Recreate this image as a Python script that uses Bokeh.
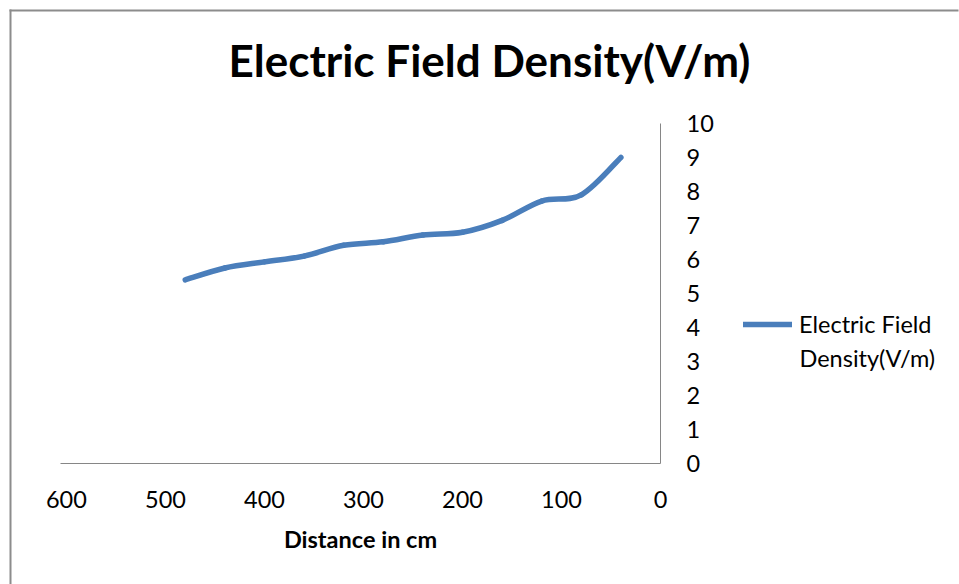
from bokeh.plotting import figure
from bokeh.models import (Range1d, FixedTicker, Label, Legend, LegendItem,
                          ColumnDataSource, BoxAnnotation)
from bokeh.embed import file_html
from bokeh.resources import INLINE

# ---- data ----
distance_cm = [480, 440, 400, 360, 320, 280, 240, 200, 160, 120, 80, 40]
field_density = [5.4, 5.75, 5.93, 6.1, 6.42, 6.52, 6.72, 6.8, 7.15, 7.72, 7.9, 9.0]
x_tick_values = [0, 100, 200, 300, 400, 500, 600]
y_tick_values = [0, 1, 2, 3, 4, 5, 6, 7, 8, 9, 10]
series_name_lines = ["Electric Field", "Density(V/m)"]
title_text = "Electric Field Density(V/m)"
x_axis_title = "Distance in cm"

FONT = "Lato"
FS = "23.5px"
LINE_COLOR = "#4a7ebb"
AXIS_COLOR = "#868686"
BORDER_COLOR = "#8c8c8c"

W, H = 959, 584
# plot-area edges in canvas pixels
PL, PR, PT, PB = 60, 660, 123, 463
X_MAX, Y_MAX = 606.0, 10.0

# the frame covers the whole canvas; the axes are pinned inside it
xpx = (PR - PL) / X_MAX
ypx = (PB - PT) / Y_MAX
x_range = Range1d(X_MAX + PL / xpx, -(W - PR) / xpx)
y_range = Range1d(-(H - PB) / ypx, Y_MAX + PT / ypx)

p = figure(width=W, height=H, output_backend="svg", toolbar_location=None,
           x_range=x_range, y_range=y_range, y_axis_location="right",
           min_border=0)
p.title.visible = False
p.outline_line_color = None
p.grid.visible = False
p.background_fill_color = "white"
p.border_fill_color = "white"

# axes
xa = p.xaxis[0]
xa.fixed_location = 0
xa.bounds = (0, X_MAX)
xa.ticker = FixedTicker(ticks=x_tick_values)
xa.axis_line_color = AXIS_COLOR
xa.major_tick_line_color = None
xa.minor_tick_line_color = None
xa.major_label_text_font = FONT
xa.major_label_text_font_size = FS
xa.major_label_text_color = "black"
xa.major_label_standoff = 21
xa.axis_label = x_axis_title
xa.axis_label_text_font = FONT
xa.axis_label_text_font_style = "bold"
xa.axis_label_text_font_size = FS
xa.axis_label_text_color = "black"
xa.axis_label_standoff = 14

ya = p.yaxis[0]
ya.fixed_location = 0
ya.bounds = (0, Y_MAX)
ya.ticker = FixedTicker(ticks=y_tick_values)
ya.axis_line_color = AXIS_COLOR
ya.major_tick_line_color = None
ya.minor_tick_line_color = None
ya.major_label_text_font = FONT
ya.major_label_text_font_size = FS
ya.major_label_text_color = "black"
ya.major_label_standoff = 20

# smoothed line (Bezier segments through the data points)
n = len(distance_cm)
def pt(i):
    i = max(0, min(n - 1, i))
    return distance_cm[i], field_density[i]

x0, y0, x1, y1, cx0, cy0, cx1, cy1 = [], [], [], [], [], [], [], []
for i in range(n - 1):
    pa, pb, pc, pd = pt(i - 1), pt(i), pt(i + 1), pt(i + 2)
    x0.append(pb[0]); y0.append(pb[1])
    x1.append(pc[0]); y1.append(pc[1])
    cx0.append(pb[0] + (pc[0] - pa[0]) / 6.0)
    cy0.append(pb[1] + (pc[1] - pa[1]) / 6.0)
    cx1.append(pc[0] - (pd[0] - pb[0]) / 6.0)
    cy1.append(pc[1] - (pd[1] - pb[1]) / 6.0)
src = ColumnDataSource(dict(x0=x0, y0=y0, x1=x1, y1=y1,
                            cx0=cx0, cy0=cy0, cx1=cx1, cy1=cy1))
curve = p.bezier(x0="x0", y0="y0", x1="x1", y1="y1", cx0="cx0", cy0="cy0",
                 cx1="cx1", cy1="cy1", source=src, line_color=LINE_COLOR,
                 line_width=5.5, line_cap="round", line_join="round")

# legend (first line of the series name next to the sample line,
# the wrapped second line set just beneath it)
legend = Legend(items=[LegendItem(label=series_name_lines[0], renderers=[curve])],
                location=(743, 246), orientation="vertical",
                border_line_color=None, background_fill_alpha=0,
                label_text_font=FONT, label_text_font_size=FS,
                label_text_color="black", glyph_width=49, glyph_height=28,
                label_height=28, label_standoff=7, padding=0, margin=0, spacing=0)
p.add_layout(legend, "center")
p.add_layout(Label(x=799, y=H - 357, x_units="screen", y_units="screen",
                   text=series_name_lines[1], text_font=FONT,
                   text_font_size=FS, text_align="left",
                   text_baseline="middle", text_color="black"))

# title
p.add_layout(Label(x=489, y=H - 59, x_units="screen", y_units="screen",
                   text=title_text, text_font=FONT, text_font_style="bold",
                   text_font_size="44px", text_align="center",
                   text_baseline="alphabetic", text_color="black"))

# chart border (top and left edges)
p.add_layout(BoxAnnotation(left=9, right=958, top=H - 9, bottom=H - 11,
                           left_units="screen", right_units="screen",
                           top_units="screen", bottom_units="screen",
                           fill_color=BORDER_COLOR, fill_alpha=1, line_color=None))
p.add_layout(BoxAnnotation(left=9, right=11, top=H - 9, bottom=0,
                           left_units="screen", right_units="screen",
                           top_units="screen", bottom_units="screen",
                           fill_color=BORDER_COLOR, fill_alpha=1, line_color=None))

open("out.html", "w").write(file_html(p, INLINE))
